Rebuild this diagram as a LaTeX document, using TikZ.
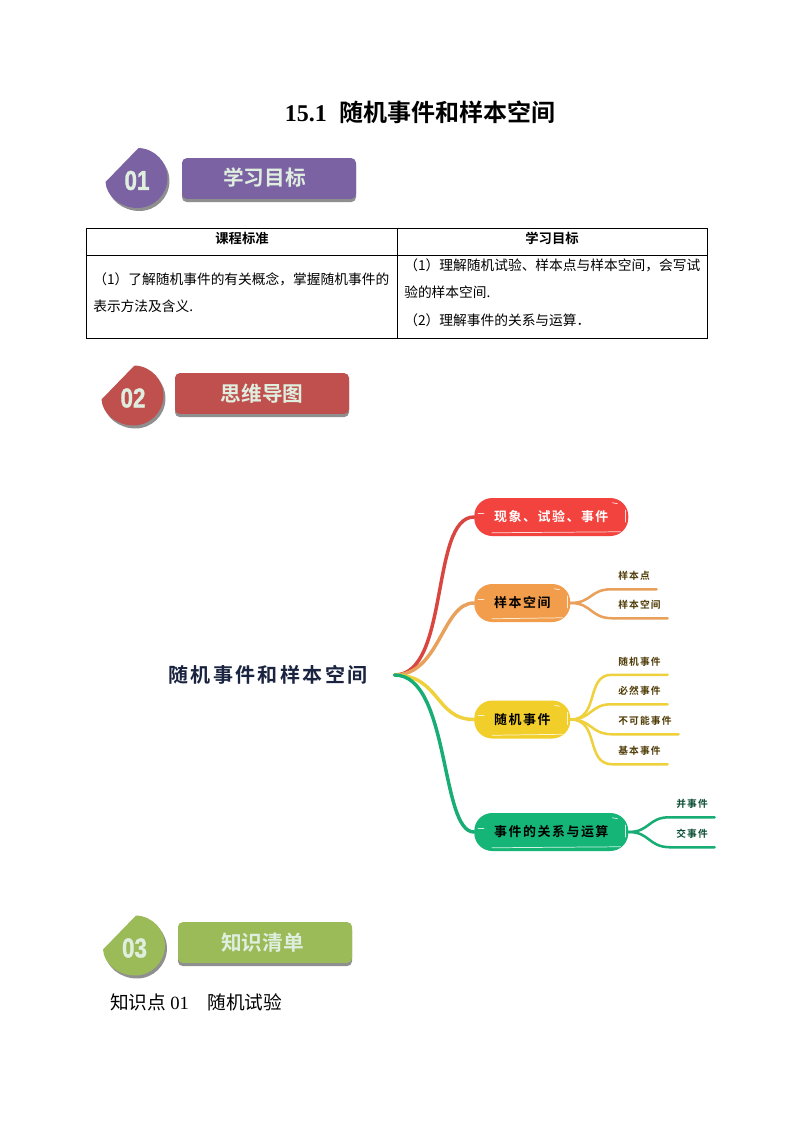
\documentclass[tikz,border=0pt]{standalone}
\usepackage{fontspec}
\setmainfont{Liberation Serif}
\newfontfamily\cjk{Noto Sans CJK SC}
\newfontfamily\cjkb{Noto Sans CJK SC Bold}
\newfontfamily\cjksp[LetterSpace=12]{Noto Sans CJK SC Bold}
\newfontfamily\cond[FakeStretch=.82,FakeBold=1.2]{Liberation Sans Bold}
\definecolor{cpurple}{HTML}{7B62A3}
\definecolor{cred}{HTML}{C0504D}
\definecolor{cgreen}{HTML}{9BBB59}
\definecolor{cshadow}{HTML}{8F8F8F}
\definecolor{cpale}{HTML}{DFEEDF}
\definecolor{mred}{HTML}{F2433F}
\definecolor{morange}{HTML}{F29D4B}
\definecolor{myellow}{HTML}{F2CE2B}
\definecolor{mgreen}{HTML}{14B577}
\definecolor{lred}{HTML}{D9453F}
\definecolor{lorange}{HTML}{E8A05A}
\definecolor{lyellow}{HTML}{EFD03D}
\definecolor{lgreen}{HTML}{17AD74}
\definecolor{tbrown}{HTML}{4F3B05}
\definecolor{tgreen}{HTML}{0A4D33}
\definecolor{tnavy}{HTML}{1A2340}
\usetikzlibrary{shadows,calc}
\tikzset{
  banner/.style={fill=#1,rounded corners=3.5pt,minimum width=130.5pt,minimum height=30.5pt,inner sep=0pt,
    general shadow={fill=cshadow,shadow xshift=0pt,shadow yshift=-2.4pt},
    text=cpale,font=\fontsize{15.5pt}{18pt}\cjkb},
  badgetext/.style={text=cpale,inner sep=0pt,font=\fontsize{20.5pt}{22pt}\cond},
  cell/.style={draw=black,line width=.6pt,anchor=north west,inner sep=0pt},
  celltext/.style={anchor=west,inner sep=0pt,align=left,font=\fontsize{10.3pt}{20.6pt}\cjk},
  mind/.style={rounded corners=13.5pt,fill=#1,inner sep=0pt,minimum height=28.5pt,anchor=west,
     font=\fontsize{9.7pt}{12pt}\cjksp},
  mainline/.style={draw=#1,line width=2.6pt,line cap=round},
  subline/.style={draw=#1,line width=1.9pt,line cap=round},
  leaf/.style={anchor=west,inner xsep=4.5pt,inner ysep=0pt,minimum height=19.5pt,align=left,
     font=\fontsize{7.3pt}{9pt}\cjksp,text=tbrown},
  sketchline/.style={draw=white,line width=.55pt,line cap=round,opacity=.8},
}
\newcommand{\badgeshape}[1]{%
  \fill[#1] (-32,3) -- (1,-31) arc[start angle=88,end angle=-90,radius=22.5pt]
    .. controls (-16,29) and (-31,18) .. cycle;}
\newcommand{\badge}[5]{%
  \begin{scope}[shift={(#1,#2)}]
    \begin{scope}[shift={(2,3)}]\badgeshape{cshadow}\end{scope}
    \badgeshape{#3}
    \node[badgetext] (#4) at (-.5,1.5) {#5};
  \end{scope}}
\newcommand{\sketchmarks}[1]{%
  \draw[sketchline] ($(#1.south west)+(18,-3.5)$) -- ($(#1.south east)+(-8,-4.5)$);
  \draw[sketchline] ($(#1.west)+(4,-4)$) -- +(6,0);
  \draw[sketchline] ($(#1.east)+(-3,-7)$) -- +(0,12);
  \draw[sketchline] ($(#1.north east)+(-16,5)$) -- +(5,1);}
\begin{document}
\begin{tikzpicture}[x=.75pt,y=-.75pt]
\useasboundingbox[fill=white] (0,0) rectangle (794,1123);
\node[anchor=west,inner sep=0pt,font=\fontsize{18pt}{20pt}\selectfont] (title) at (284.5,112)
  {{\bfseries 15.1}\hspace{9.5pt}{\cjkb 随机事件和样本空间}};

\badge{137.5}{179}{cpurple}{badgeA}{01}
\node[banner=cpurple] (bannerA) at (269,178.5) {\raisebox{3.4pt}{\hspace*{-7pt}学习目标}};

\node[cell,minimum width=233.25pt,minimum height=20.25pt] (headL) at (86,228) {};
\node[cell,minimum width=232.5pt,minimum height=20.25pt] (headR) at (397,228) {};
\node[cell,minimum width=233.25pt,minimum height=62.25pt] (bodyL) at (86,255) {};
\node[cell,minimum width=232.5pt,minimum height=62.25pt] (bodyR) at (397,255) {};
\node[inner sep=0pt,font=\fontsize{10pt}{12pt}\cjkb] (headLt) at (242,238) {课程标准};
\node[inner sep=0pt,font=\fontsize{10pt}{12pt}\cjkb] (headRt) at (552,238) {学习目标};
\node[celltext] (bodyLt) at (93,292.5) {（1）了解随机事件的有关概念，掌握随机事件的\\表示方法及含义.};
\node[celltext] (bodyRt) at (404,292.5) {（1）理解随机试验、样本点与样本空间，会写试\\验的样本空间.\\（2）理解事件的关系与运算．};

\badge{133.5}{396.5}{cred}{badgeB}{02}
\node[banner=cred] (bannerB) at (262,393.5) {思维导图};

\node[anchor=west,inner sep=0pt,text width=169.5pt,align=left,text=tnavy,
  font=\fontsize{15pt}{18pt}\cjksp] (root) at (168,675) {随机事件和样本空间};

\node[mind=mred,minimum width=115.5pt,text=white] (n1) at (474,517) {现象、试验、事件};
\node[mind=morange,minimum width=72pt,text=black] (n2) at (474,603) {样本空间};
\node[mind=myellow,minimum width=72pt,text=black] (n3) at (474,719.5) {随机事件};
\node[mind=mgreen,minimum width=115.5pt,text=black] (n4) at (474,832) {事件的关系与运算};
\sketchmarks{n1}\sketchmarks{n2}\sketchmarks{n3}\sketchmarks{n4}

\draw[mainline=lred] (root.east) .. controls (450,675) and (430,517) .. (n1.west);
\draw[mainline=lorange] (root.east) .. controls (440,675) and (442,603) .. (n2.west);
\draw[mainline=lyellow] (root.east) .. controls (440,675) and (435,719.5) .. (n3.west);
\draw[mainline=lgreen] (root.east) .. controls (450,675) and (440,832) .. (n4.west);

\node[leaf,text width=24pt] (a1) at (612,576) {样本点};
\node[leaf,text width=32.25pt] (a2) at (612,605) {样本空间};
\node[leaf,text width=32.25pt] (b1) at (612,661.5) {随机事件};
\node[leaf,text width=32.25pt] (b2) at (612,691) {必然事件};
\node[leaf,text width=40.5pt] (b3) at (612,721) {不可能事件};
\node[leaf,text width=32.25pt] (b4) at (612,751) {基本事件};
\node[leaf,text width=24pt,text=tgreen] (c1) at (670,804) {并事件};
\node[leaf,text width=24pt,text=tgreen] (c2) at (670,834) {交事件};

\draw[subline=lorange] (n2.east) .. controls (592,603) and (590,589) .. (a1.south west) -- (a1.south east);
\draw[subline=lorange] (n2.east) .. controls (592,603) and (590,618) .. (a2.south west) -- (a2.south east);
\draw[subline=lyellow] (n3.east) .. controls (600,719.5) and (585,674.5) .. (b1.south west) -- (b1.south east);
\draw[subline=lyellow] (n3.east) .. controls (592,719.5) and (590,704) .. (b2.south west) -- (b2.south east);
\draw[subline=lyellow] (n3.east) .. controls (592,719.5) and (590,734) .. (b3.south west) -- (b3.south east);
\draw[subline=lyellow] (n3.east) .. controls (600,719.5) and (585,764) .. (b4.south west) -- (b4.south east);
\draw[subline=lgreen] (n4.east) .. controls (650,832) and (648,817) .. (c1.south west) -- (c1.south east);
\draw[subline=lgreen] (n4.east) .. controls (650,832) and (648,847) .. (c2.south west) -- (c2.south east);

\badge{135}{946.5}{cgreen}{badgeC}{03}
\node[banner=cgreen] (bannerC) at (265,942.5) {\hspace*{-4pt}知识清单};

\node[anchor=west,inner sep=0pt,font=\fontsize{14pt}{16pt}\selectfont] (sec) at (110,1002)
  {{\cjk 知识点}\hspace{3pt}01\hspace{14pt}{\cjk 随机试验}};
\end{tikzpicture}
\end{document}
